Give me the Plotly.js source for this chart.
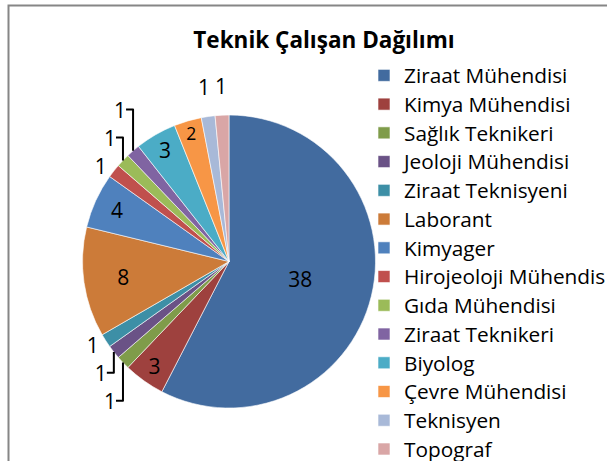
<!DOCTYPE html>
<html>
<head>
<meta charset="utf-8">
<script src="https://cdn.plot.ly/plotly-3.0.1.min.js"></script>
<style>
  html, body { margin: 0; padding: 0; background: #ffffff; }
  #chart { width: 607px; height: 461px; }
  #chart .legendtext { font-size: 20.8px !important; }
</style>
</head>
<body>
<div id="chart"></div>
<script>
const chartTitle = 'Teknik Çalışan Dağılımı';
const categories = [
  'Ziraat Mühendisi', 'Kimya Mühendisi', 'Sağlık Teknikeri', 'Jeoloji Mühendisi',
  'Ziraat Teknisyeni', 'Laborant', 'Kimyager', 'Hirojeoloji Mühendisi',
  'Gıda Mühendisi', 'Ziraat Teknikeri', 'Biyolog', 'Çevre Mühendisi',
  'Teknisyen', 'Topograf'
];
const counts = [38, 3, 1, 1, 1, 8, 4, 1, 1, 1, 3, 2, 1, 1];
const sliceColors = [
  '#426B9F', '#9E413E', '#7F9C4A', '#6A5286', '#3D8FA6', '#CC7B39',
  '#4F81BD', '#C0504D', '#9BBB59', '#8064A2', '#4BACC6', '#F79646',
  '#A8B9D8', '#D9A6A6'
];

const FONT = '"Open Sans", Lato, sans-serif';
const W = 607, H = 461;
const pieDomain = { x: [82.5 / W, 375.5 / W], y: [53 / H, 346 / H] };

// geometry of the pie derived from its domain and the data
const total = counts.reduce((a, b) => a + b, 0);
const cxPx = (pieDomain.x[0] + pieDomain.x[1]) / 2 * W;
const cyPx = (1 - (pieDomain.y[0] + pieDomain.y[1]) / 2) * H;
const rPx = Math.min((pieDomain.x[1] - pieDomain.x[0]) * W, (pieDomain.y[1] - pieDomain.y[0]) * H) / 2;
let cum = 0;
const midAngles = counts.map(v => { const m = (cum + v / 2) / total * 360; cum += v; return m; });

// small slices near 12 o'clock are labelled side by side above the pie
const nearTop = midAngles.map(a => Math.min(a, 360 - a) < 15);
const textPositions = counts.map((v, i) => (v > 1 ? 'inside' : (nearTop[i] ? 'none' : 'outside')));

const topAnnotations = [];
counts.forEach((v, i) => {
  if (v > 1 || !nearTop[i]) return;
  const t = midAngles[i] * Math.PI / 180;
  const px = cxPx + 1.2 * rPx * Math.sin(t);
  const py = cyPx - 1.2 * rPx * Math.cos(t);
  topAnnotations.push({
    text: String(v), xref: 'paper', yref: 'paper', x: px / W, y: 1 - py / H,
    xanchor: 'center', yanchor: 'middle', showarrow: false,
    font: { family: FONT, size: 21, color: '#000000' }
  });
});

const trace = {
  type: 'pie',
  labels: categories,
  values: counts,
  sort: false,
  direction: 'clockwise',
  rotation: 0,
  marker: { colors: sliceColors, line: { color: 'rgba(255,255,255,0.75)', width: 0.8 } },
  texttemplate: '%{value}',
  textposition: textPositions,
  insidetextorientation: 'horizontal',
  textfont: { family: FONT, size: 21, color: '#000000' },
  insidetextfont: { family: FONT, size: 21, color: '#000000' },
  outsidetextfont: { family: FONT, size: 21, color: '#000000' },
  hoverinfo: 'label+value',
  domain: pieDomain
};

const layout = {
  width: W,
  height: H,
  margin: { l: 0, r: 0, t: 0, b: 0, autoexpand: false },
  paper_bgcolor: '#ffffff',
  title: {
    text: chartTitle,
    x: 324 / W,
    xanchor: 'center',
    xref: 'paper',
    y: 1 - 40 / H,
    yanchor: 'middle',
    yref: 'paper',
    font: { family: FONT, size: 22.5, weight: 700, color: '#000000' }
  },
  showlegend: true,
  legend: {
    x: 364 / W,
    xanchor: 'left',
    y: 1 - 56 / H,
    yanchor: 'top',
    traceorder: 'normal',
    bgcolor: 'rgba(0,0,0,0)',
    font: { family: FONT, size: 19.8, color: '#000000' }
  },
  annotations: topAnnotations,
  shapes: [{
    type: 'rect', xref: 'paper', yref: 'paper',
    x0: 8.5 / W, x1: 1.2, y0: -0.2, y1: 1 - 5.5 / H,
    line: { color: '#868686', width: 2 }, fillcolor: 'rgba(0,0,0,0)'
  }]
};

Plotly.newPlot('chart', [trace], layout, { displayModeBar: false, staticPlot: true });
</script>
</body>
</html>
